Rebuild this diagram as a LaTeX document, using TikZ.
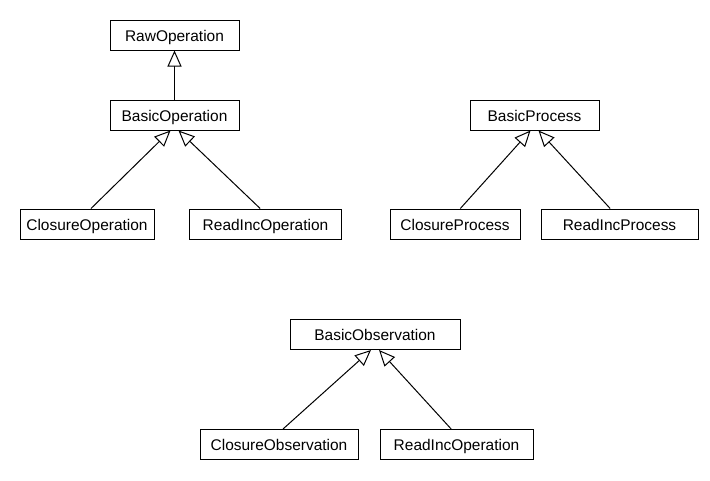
\documentclass[tikz,border=0pt]{standalone}
\usepackage{fontspec}
\setmainfont{Liberation Sans}
\usetikzlibrary{arrows.meta}

\tikzset{
  cls/.style={draw, line width=0.75pt, minimum height=22.5pt, inner sep=0pt,
    text height=9.5pt, text depth=0pt, font=\fontsize{11.6}{13}\selectfont},
  isa/.style={line width=0.75pt, -{Triangle[open, length=12pt, width=10.5pt, fill=white]}}
}

\begin{document}
\begin{tikzpicture}[x=0.75pt, y=-0.75pt]
\useasboundingbox (0,0) rectangle (710,480);

% operations
\node[cls, minimum width=96.75pt]  (raw) at (174.5,35)  {RawOperation};
\node[cls, minimum width=96.75pt]  (bop) at (174.5,115) {BasicOperation};
\node[cls, minimum width=100.5pt]  (cop) at (87,224)    {ClosureOperation};
\node[cls, minimum width=114pt]    (rop) at (265.5,224) {ReadIncOperation};

% processes
\node[cls, minimum width=96.75pt]  (bpr) at (534.5,115) {BasicProcess};
\node[cls, minimum width=97.5pt]   (cpr) at (455,224)   {ClosureProcess};
\node[cls, minimum width=117.75pt] (rpr) at (619.5,224) {ReadIncProcess};

% observations
\node[cls, minimum width=127.5pt]  (bob) at (375,334.5) {BasicObservation};
\node[cls, minimum width=118.5pt]  (cob) at (279,444.5) {ClosureObservation};
\node[cls, minimum width=114.75pt] (rob) at (456.5,444.5) {ReadIncOperation};

\draw[isa] (bop) -- (raw);
\draw[isa] ([xshift=3pt]cop.north) -- ([xshift=-3pt]bop.south);
\draw[isa] ([xshift=-4pt]rop.north) -- ([xshift=3pt]bop.south);
\draw[isa] ([xshift=4pt]cpr.north) -- ([xshift=-3pt]bpr.south);
\draw[isa] ([xshift=-7pt]rpr.north) -- ([xshift=3pt]bpr.south);
\draw[isa] ([xshift=3pt]cob.north) -- ([xshift=-3pt]bob.south);
\draw[isa] ([xshift=-4pt]rob.north) -- ([xshift=3pt]bob.south);
\end{tikzpicture}
\end{document}
